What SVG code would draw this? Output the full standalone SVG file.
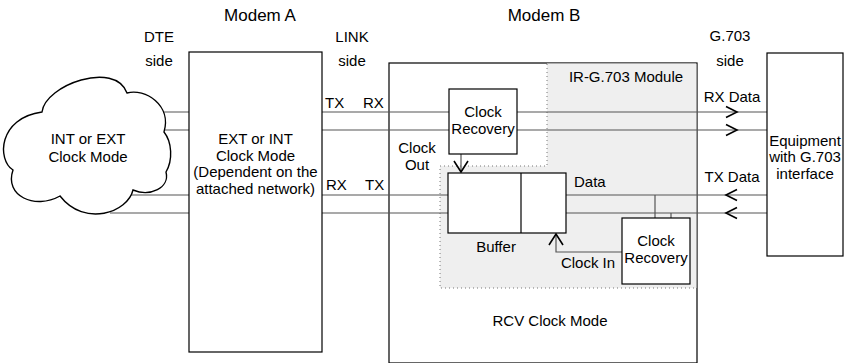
<svg xmlns="http://www.w3.org/2000/svg" width="844" height="363" viewBox="0 0 844 363">
<style>
text{font-family:"Liberation Sans",Arial,Helvetica,sans-serif;font-size:15px;fill:#000}
.t{font-size:17px}
.m{text-anchor:middle}
.box{fill:#fff;stroke:#000;stroke-width:1.2}
.ln{stroke:#555;stroke-width:1.2;fill:none}
.dot{stroke:#777;stroke-width:1;stroke-dasharray:1 3;fill:none}
.arr{stroke:#000;stroke-width:1.6;fill:none}
</style>
<rect width="844" height="363" fill="#fff"/>
<g id="modemB">
<rect x="389" y="63" width="308" height="300" class="box"/>
</g>
<g id="module">
<polygon points="547,63.6 696.4,63.6 696.4,288 440,288 440,166 547,166" fill="#efefef"/>
<polyline points="547,64 547,166 440,166 440,288 696,288" class="dot"/>
<text x="626" y="82" class="m">IR-G.703 Module</text>
</g>
<g id="connectors">
<path class="ln" d="M140 112H189M140 130H189M120 195H189M110 213H189"/>
<path class="ln" d="M322 112H767M322 130H767M322 195H448M322 213H448M566 195H767M566 213H767"/>
<path class="ln" d="M655 195V218M671 213V218"/>
<path class="ln" d="M461 154V172"/>
<polyline class="arr" points="454,161 461,172 468,161"/>
<path class="ln" d="M622 252H556V234"/>
<polyline class="arr" points="549,245 556,234 563,245"/>
<polyline class="arr" points="726,106.5 737,112 726,117.5"/>
<polyline class="arr" points="726,124.5 737,130 726,135.5"/>
<polyline class="arr" points="737,189.5 726,195 737,200.5"/>
<polyline class="arr" points="737,207.5 726,213 737,218.5"/>
</g>
<g id="cloud">
<path d="M42 112C45 85 115 60 127 93C145 88 172 105 164 132C172 142 173 160 166 172C170 188 150 197 133 190C128 212 85 228 60 196C35 210 4 196 13 170C-3 160 -2 118 42 112Z" fill="#fff" stroke="#000" stroke-width="1.4"/>
<text x="88" y="144" class="m">INT or EXT</text>
<text x="88" y="162" class="m">Clock Mode</text>
</g>
<g id="modemA">
<rect x="189" y="52" width="133" height="300" class="box"/>
<text x="255.5" y="144" class="m">EXT or INT</text>
<text x="255.5" y="160.5" class="m">Clock Mode</text>
<text x="255.5" y="177" class="m">(Dependent on the</text>
<text x="255.5" y="193.5" class="m">attached network)</text>
</g>
<g id="equipment">
<rect x="767" y="53" width="76" height="203" class="box"/>
<text x="805" y="145.5" class="m">Equipment</text>
<text x="805" y="162" class="m">with G.703</text>
<text x="805" y="178.5" class="m">interface</text>
</g>
<g id="clockRecovery1">
<rect x="449" y="89" width="68" height="65" class="box"/>
<text x="483" y="117" class="m">Clock</text>
<text x="483" y="134" class="m">Recovery</text>
</g>
<g id="buffer">
<rect x="448" y="173" width="118" height="60" class="box"/>
<line x1="521" y1="173" x2="521" y2="233" stroke="#000" stroke-width="1.2"/>
<text x="496" y="252" class="m">Buffer</text>
</g>
<g id="clockRecovery2">
<rect x="622" y="218" width="68" height="66" class="box"/>
<text x="656" y="246" class="m">Clock</text>
<text x="656" y="263" class="m">Recovery</text>
</g>
<g id="labels">
<text x="260" y="21" class="t m">Modem A</text>
<text x="544" y="21" class="t m">Modem B</text>
<text x="159" y="42" class="m">DTE</text>
<text x="159" y="66" class="m">side</text>
<text x="352" y="42" class="m">LINK</text>
<text x="352" y="66" class="m">side</text>
<text x="730" y="41" class="m">G.703</text>
<text x="730" y="65.5" class="m">side</text>
<text x="325" y="108">TX</text>
<text x="363" y="108">RX</text>
<text x="326" y="190">RX</text>
<text x="365" y="190">TX</text>
<text x="417" y="153" class="m">Clock</text>
<text x="417" y="170" class="m">Out</text>
<text x="732" y="102" class="m">RX Data</text>
<text x="732" y="182" class="m">TX Data</text>
<text x="574" y="187">Data</text>
<text x="588" y="268" class="m">Clock In</text>
<text x="550" y="326" class="m">RCV Clock Mode</text>
</g>
</svg>
